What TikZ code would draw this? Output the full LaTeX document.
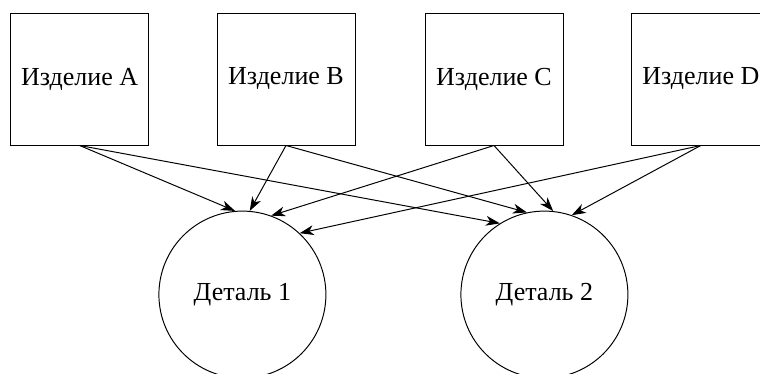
\documentclass[tikz,border=0pt]{standalone}
\usepackage{fontspec}
\setmainfont{Liberation Serif}
\usetikzlibrary{arrows.meta}

\tikzset{
  izd/.style={draw,line width=0.7pt,minimum width=3.45cm,minimum height=3.3cm,font=\fontsize{18.5}{22}\selectfont},
  det/.style={draw,circle,line width=0.7pt,minimum size=4.175cm,font=\fontsize{18.5}{22}\selectfont},
  link/.style={line width=0.7pt,-{Stealth[length=10pt,width=7pt,inset=3pt]}}
}

\begin{document}
\begin{tikzpicture}
\useasboundingbox (0,0) rectangle (19,9.325);
\clip (0,0) rectangle (19,9.325);
\foreach\n/\x in {A/1.99,B/7.15,C/12.35,D/17.52}{\node[izd] (\n) at (\x,7.35) {Изделие \n};};
\node[det] (d1) at (6.06,1.96) {Деталь 1};
\node[det] (d2) at (13.61,1.96) {Деталь 2};
\foreach\n/\t in {A/95,B/85,C/70,D/47}{\draw[link] (\n.south) -- (d1.\t);};
\foreach\n/\t in {A/122,B/102,C/84,D/71}{\draw[link] (\n.south) -- (d2.\t);};
\end{tikzpicture}
\end{document}
